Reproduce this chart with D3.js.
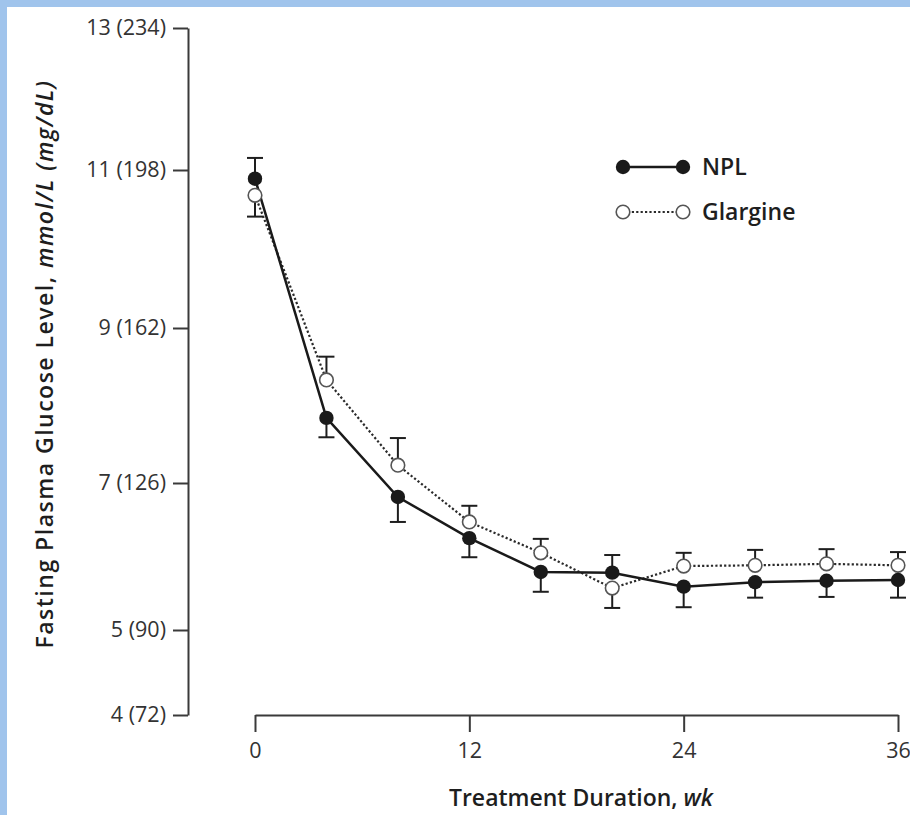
<!DOCTYPE html>
<html>
<head>
<meta charset="utf-8">
<script src="https://cdn.jsdelivr.net/npm/d3@7/dist/d3.min.js"></script>
<style>
  html, body { margin: 0; padding: 0; background: #fff; }
  svg { display: block; }
  text { font-family: "Open Sans", "Noto Sans", sans-serif; }
</style>
</head>
<body>
<svg id="chart" width="910" height="815"></svg>
<script>
// Fasting plasma glucose (mmol/L) by treatment week, mean ± SE
const weeks = [0, 4, 8, 12, 16, 20, 24, 28, 32, 36];
const nplMean = [10.89, 7.84, 6.81, 6.25, 5.79, 5.78, 5.59, 5.65, 5.67, 5.68];
const nplSE = [0.28, 0.25, 0.34, 0.26, 0.27, 0.24, 0.28, 0.21, 0.22, 0.24];
const glargineMean = [10.68, 8.33, 7.23, 6.47, 6.05, 5.57, 5.87, 5.88, 5.90, 5.88];
const glargineSE = [0.27, 0.30, 0.35, 0.22, 0.19, 0.27, 0.18, 0.21, 0.20, 0.18];

const yTickValues = [4, 5, 7, 9, 11, 13];
const yTickLabels = ["4 (72)", "5 (90)", "7 (126)", "9 (162)", "11 (198)", "13 (234)"];
const xTickValues = [0, 12, 24, 36];

const svg = d3.select("#chart");

// frame strips along the top and left edges
svg.append("rect").attr("x", 0).attr("y", 0).attr("width", 910).attr("height", 7).attr("fill", "#a0c4ec");
svg.append("rect").attr("x", 0).attr("y", 0).attr("width", 7).attr("height", 815).attr("fill", "#a0c4ec");

const x = d3.scaleLinear().domain([0, 36]).range([255, 898]);
// y axis is drawn with uneven spacing between the ticks
const y = d3.scaleLinear()
  .domain([4, 5, 7, 9, 11, 13])
  .range([715, 630, 483, 328, 170, 28]);

const axisColor = "#3a3a3a";
const tickFont = "21.5px";

// Y axis
const yAxis = svg.append("g")
  .attr("transform", "translate(188,0)")
  .call(d3.axisLeft(y)
    .tickValues(yTickValues)
    .tickFormat((d, i) => yTickLabels[i])
    .tickSize(15)
    .tickPadding(7)
    .tickSizeOuter(0));
yAxis.select(".domain").attr("stroke", axisColor).attr("stroke-width", 2);
yAxis.selectAll(".tick line").attr("stroke", axisColor).attr("stroke-width", 2);
yAxis.selectAll(".tick text")
  .attr("fill", "#333")
  .style("font-size", tickFont)
  .style("font-family", "'Open Sans', sans-serif");

// X axis
const xAxis = svg.append("g")
  .attr("transform", "translate(0,715)")
  .call(d3.axisBottom(x)
    .tickValues(xTickValues)
    .tickSize(17)
    .tickPadding(11)
    .tickSizeOuter(0));
xAxis.select(".domain").attr("stroke", axisColor).attr("stroke-width", 2);
xAxis.selectAll(".tick line").attr("stroke", axisColor).attr("stroke-width", 2);
xAxis.selectAll(".tick text")
  .attr("fill", "#333")
  .style("font-size", tickFont)
  .style("font-family", "'Open Sans', sans-serif");

// Axis titles
svg.append("text")
  .attr("x", 581).attr("y", 806)
  .attr("text-anchor", "middle")
  .attr("fill", "#1e1e1e")
  .style("font-size", "23px")
  .style("font-weight", 600)
  .html('Treatment Duration, <tspan font-style="italic">wk</tspan>');

svg.append("text")
  .attr("transform", "translate(53,364) rotate(-90)")
  .attr("text-anchor", "middle")
  .attr("fill", "#1e1e1e")
  .style("font-size", "23px")
  .style("font-weight", 600)
  .style("letter-spacing", "1.5px")
  .html('Fasting Plasma Glucose Level, <tspan font-style="italic">mmol/L (mg/dL)</tspan>');

const npl = weeks.map((w, i) => ({ w, v: nplMean[i], se: nplSE[i], other: glargineMean[i] }));
const gla = weeks.map((w, i) => ({ w, v: glargineMean[i], se: glargineSE[i], other: nplMean[i] }));

const line = d3.line().x(d => x(d.w)).y(d => y(d.v));

// Series lines
svg.append("path").datum(gla)
  .attr("d", line)
  .attr("fill", "none")
  .attr("stroke", "#2a2a2a")
  .attr("stroke-width", 2.2)
  .attr("stroke-dasharray", "2.2,2.2");

svg.append("path").datum(npl)
  .attr("d", line)
  .attr("fill", "none")
  .attr("stroke", "#1a1a1a")
  .attr("stroke-width", 2.5);

// Error bars point away from the other series
function errorBars(data, cls) {
  const g = svg.append("g").attr("class", cls);
  data.forEach(d => {
    const end = d.v >= d.other ? d.v + d.se : d.v - d.se;
    const cx = x(d.w);
    g.append("line")
      .attr("x1", cx).attr("x2", cx)
      .attr("y1", y(d.v)).attr("y2", y(end))
      .attr("stroke", "#1e1e1e").attr("stroke-width", 2);
    g.append("line")
      .attr("x1", cx - 8).attr("x2", cx + 8)
      .attr("y1", y(end)).attr("y2", y(end))
      .attr("stroke", "#1e1e1e").attr("stroke-width", 2);
  });
}
errorBars(gla, "err-glargine");
errorBars(npl, "err-npl");

// Markers
svg.append("g").selectAll("circle").data(gla).join("circle")
  .attr("cx", d => x(d.w)).attr("cy", d => y(d.v)).attr("r", 6.8)
  .attr("fill", "#fff").attr("stroke", "#555").attr("stroke-width", 1.6);

svg.append("g").selectAll("circle").data(npl).join("circle")
  .attr("cx", d => x(d.w)).attr("cy", d => y(d.v)).attr("r", 7.2)
  .attr("fill", "#1a1a1a");

// Legend
const legend = svg.append("g");
const legendRows = [
  { name: "NPL", filled: true, y: 167 },
  { name: "Glargine", filled: false, y: 212 }
];
legendRows.forEach(r => {
  legend.append("line")
    .attr("x1", 623).attr("x2", 683).attr("y1", r.y).attr("y2", r.y)
    .attr("stroke", r.filled ? "#1a1a1a" : "#2a2a2a")
    .attr("stroke-width", r.filled ? 2.5 : 2.2)
    .attr("stroke-dasharray", r.filled ? null : "2.2,2.2");
  [623, 683].forEach(cx => {
    legend.append("circle")
      .attr("cx", cx).attr("cy", r.y).attr("r", r.filled ? 7.2 : 6.8)
      .attr("fill", r.filled ? "#1a1a1a" : "#fff")
      .attr("stroke", r.filled ? "none" : "#555")
      .attr("stroke-width", 1.6);
  });
  legend.append("text")
    .attr("x", 702).attr("y", r.y + 8)
    .attr("fill", "#1e1e1e")
    .style("font-size", "23px")
    .style("font-weight", 600)
    .text(r.name);
});
</script>
</body>
</html>
